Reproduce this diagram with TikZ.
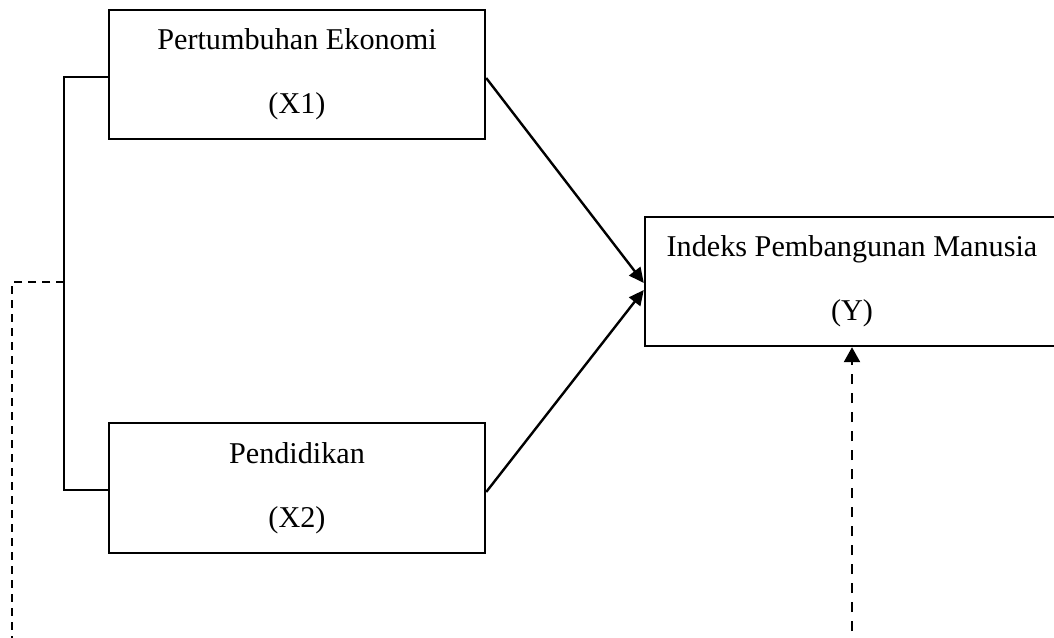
\documentclass[tikz,border=0pt]{standalone}
\usepackage{fontspec}
\setmainfont{Liberation Serif}
\usetikzlibrary{arrows.meta}

\tikzset{
  varbox/.style={draw=black, line width=1.2pt, align=center, inner sep=0pt,
    font=\fontsize{15.1}{32}\selectfont},
  link/.style={line width=1.2pt, -{Triangle[length=7.5pt,width=7pt]}},
  dashlink/.style={line width=1.2pt, dash pattern=on 5pt off 4.5pt},
  dashsmall/.style={line width=1pt, dash pattern=on 4pt off 3pt}
}

\begin{document}
\begin{tikzpicture}[x=0.5pt, y=-0.5pt]
\useasboundingbox (0,0) rectangle (1054,637);

% variables
  \node[varbox, minimum width=188pt, minimum height=64.5pt] (x1) at (297,74.5) {Pertumbuhan Ekonomi\\(X1)};
  \node[varbox, minimum width=188pt, minimum height=65pt] (x2) at (297,488) {Pendidikan\\(X2)};
  \node[varbox, minimum width=207pt, minimum height=64.5pt] (y) at (852,281.5) {Indeks Pembangunan Manusia\\(Y)};

% bracket and dashed paths
  \coordinate (b1) at (64,77);
  \coordinate (b2) at (64,490);
  \coordinate (bm) at (64,282);
  \coordinate (dl) at (12,282);
  \coordinate (dlb) at (12,650);
  \coordinate (yb) at (852,650);

  \draw[line width=1.2pt] (x1.west |- b1) -- (b1) -- (b2) -- (x2.west |- b2);
  \draw[dashsmall] (bm) -- (dl) -- (dlb);

% partial effects
  \draw[link] ([yshift=-1.75pt]x1.east) -- ([yshift=-0.75pt]y.west);
  \draw[link] ([yshift=-2pt]x2.east) -- ([yshift=-4.25pt]y.west);

% joint effect
  \draw[dashlink, -{Triangle[length=7.5pt,width=8pt]}] (yb) -- (y.south);

\end{tikzpicture}
\end{document}
